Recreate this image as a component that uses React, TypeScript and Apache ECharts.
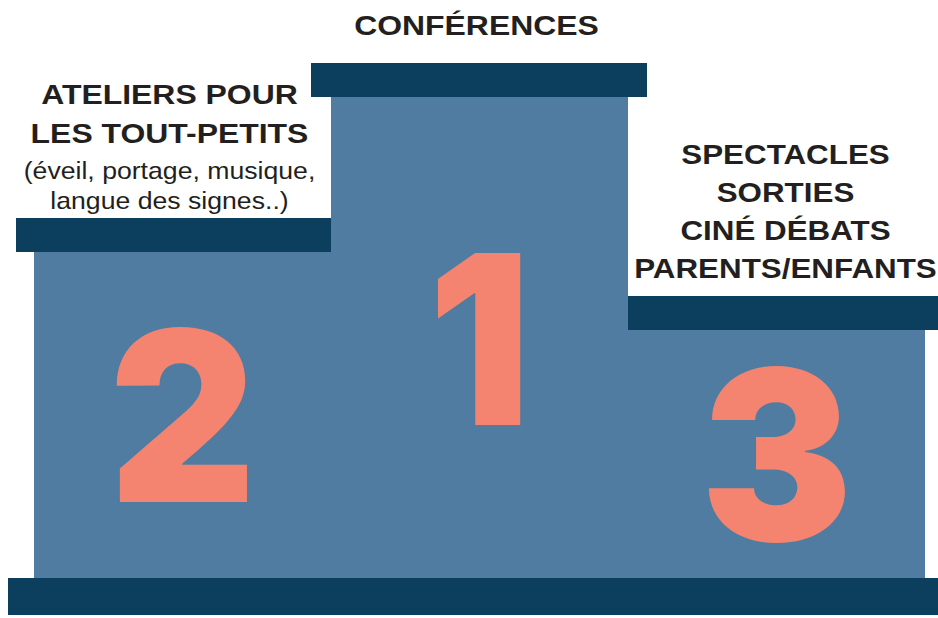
import React, { useEffect, useRef } from "react";
import * as echarts from "echarts";

// ---- data ----
const places = ["2", "1", "3"]; // rank shown on each step (left → right)
const podiumHeights = [326, 481, 248]; // step heights, y-axis units
const titleLines = [
  ["ATELIERS POUR", "LES TOUT-PETITS"],
  ["CONFÉRENCES"],
  ["SPECTACLES", "SORTIES", "CINÉ DÉBATS", "PARENTS/ENFANTS"],
];
const noteLines = [["(éveil, portage, musique,", "langue des signes..)"], [], []];
const yMax = 578;

// ---- layout / style ----
const capOverhang = [
  [18, 0],
  [20, 19],
  [0, 13],
];
const capThickness = 34;
const labelDx = [-13, -3, 9];
const labelBottomGap = [18, 38, 28];
const labelStretch = [1.14, 1.14, 1.12];
const BLUE = "#4F7CA0";
const NAVY = "#0C3E5E";
const SALMON = "#F4846F";
const INK = "#231F20";
const SANS = "'Liberation Sans', Arial, sans-serif";

export default function App() {
  const ref = useRef<HTMLDivElement>(null);
  useEffect(() => {
    if (!ref.current) return;
    const chart = echarts.init(ref.current, null, { renderer: "svg" });

    const renderStep = (params: any, api: any) => {
      const i = params.dataIndex;
      const idx = api.value(0);
      const h = api.value(1);
      const [cx, topY] = api.coord([idx, h]);
      const [, groundY] = api.coord([idx, 0]);
      const bandW = api.size([1, 0])[0];
      const left = cx - bandW / 2;
      const [ovL, ovR] = capOverhang[i];
      const capTop = topY - capThickness;
      const children: any[] = [
        {
          type: "rect",
          shape: { x: left, y: topY, width: bandW, height: groundY - topY },
          style: { fill: BLUE },
        },
        {
          type: "rect",
          shape: { x: left - ovL, y: capTop, width: bandW + ovL + ovR, height: capThickness },
          style: { fill: NAVY },
        },
        {
          type: "text",
          x: cx,
          y: (topY + groundY) / 2 + 1,
          scaleX: 0.96,
          style: {
            text: places[i],
            x: 0,
            y: 0,
            align: "center",
            verticalAlign: "middle",
            fontSize: 237,
            fontWeight: 900,
            fontFamily: "Inter, 'Open Sans', sans-serif",
            fill: SALMON,
          },
        },
      ];
      // labels above the cap, stacked upward from the last line
      const lines: { t: string; bold: boolean }[] = [
        ...titleLines[i].map((t) => ({ t, bold: true })),
        ...noteLines[i].map((t) => ({ t, bold: false })),
      ];
      let y = capTop - labelBottomGap[i];
      for (let k = lines.length - 1; k >= 0; k--) {
        const ln = lines[k];
        children.push({
          type: "text",
          x: cx + labelDx[i],
          y,
          scaleX: ln.bold ? labelStretch[i] : 1.11,
          style: {
            text: ln.t,
            x: 0,
            y: 0,
            align: "center",
            verticalAlign: "middle",
            fontSize: 28 - (ln.bold ? 0 : 4),
            fontWeight: ln.bold ? "bold" : "normal",
            fontFamily: SANS,
            fill: INK,
          },
        });
        if (k > 0) {
          const prev = lines[k - 1];
          y -= prev.bold && ln.bold ? (i === 2 ? 38 : 39) : prev.bold ? 37 : 30;
        }
      }
      return { type: "group", children };
    };

    const renderBase = (_params: any, api: any) => {
      const [x0, g] = api.coord([0, 0]);
      const [x2] = api.coord([places.length - 1, 0]);
      const bandW = api.size([1, 0])[0];
      const left = x0 - bandW / 2 - 26;
      const right = x2 + bandW / 2 + 13;
      return {
        type: "rect",
        shape: { x: left, y: g, width: right - left, height: 37 },
        style: { fill: NAVY },
      };
    };

    chart.setOption({
      animation: false,
      backgroundColor: "#ffffff",
      grid: { left: 34, right: 13, top: 0, bottom: 40 },
      xAxis: { type: "category", data: places, show: false, boundaryGap: true },
      yAxis: { type: "value", min: 0, max: yMax, show: false },
      series: [
        {
          type: "custom",
          renderItem: renderBase,
          data: [[0, 0]],
          clip: false,
          silent: true,
        },
        {
          type: "custom",
          renderItem: renderStep,
          data: places.map((_, i) => [i, podiumHeights[i]]),
          clip: false,
          silent: true,
        },
      ],
    });
    return () => chart.dispose();
  }, []);
  return (
    <div
      ref={ref}
      style={{ position: "fixed", left: 0, top: 0, width: 938, height: 618, background: "#fff" }}
    />
  );
}
